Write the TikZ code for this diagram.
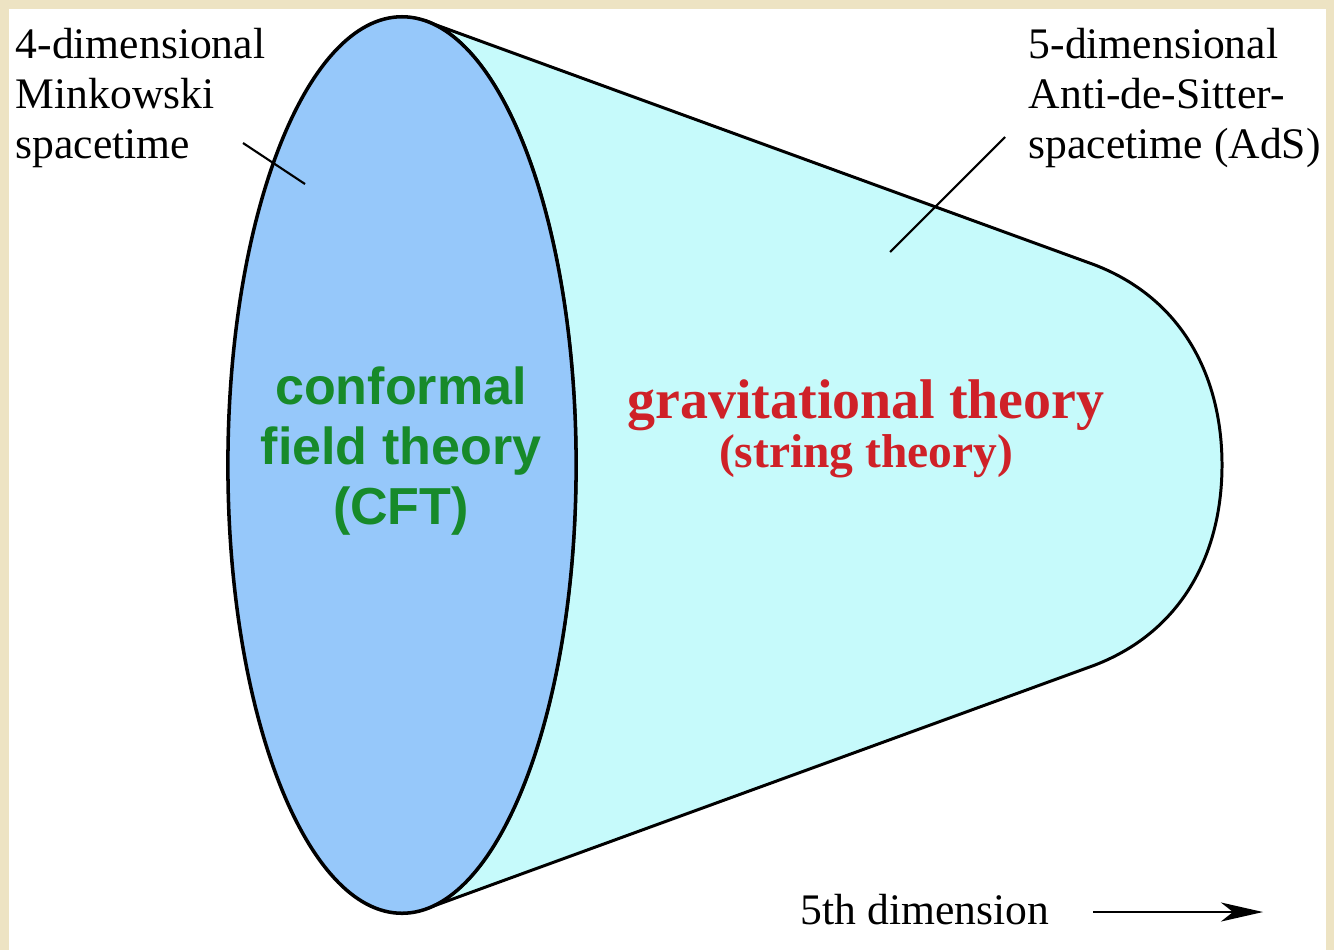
\documentclass[tikz,border=0pt]{standalone}
\usepackage{fontspec}
\setmainfont{Liberation Serif}
\newfontfamily\sansbold{Liberation Sans}
\usetikzlibrary{arrows.meta}
\definecolor{cream}{HTML}{EDE3C3}
\definecolor{conecol}{HTML}{C6FAFB}
\definecolor{disccol}{HTML}{96C8FA}
\definecolor{cftgreen}{HTML}{178A2A}
\definecolor{gravred}{HTML}{CF2128}
\tikzset{
  outline/.style={draw=black, line width=0.85pt},
  leader/.style={draw=black, line width=0.6pt},
  label/.style={inner sep=0pt, align=left, font=\fontsize{12.4}{14.2}\selectfont},
  cfttext/.style={inner sep=0pt, align=center, text=cftgreen, font=\sansbold\bfseries\fontsize{14.8}{17.1}\selectfont},
  gravtext/.style={inner sep=0pt, text=gravred, font=\bfseries\fontsize{15.9}{18}\selectfont},
  stringtext/.style={inner sep=0pt, text=gravred, font=\bfseries\fontsize{13.5}{16}\selectfont},
}
\begin{document}
\begin{tikzpicture}[x=0.01cm, y=0.01cm]
\useasboundingbox (0,0) rectangle (1334,950);
\fill[cream] (0,0) rectangle (1334,950);
\fill[white] (9,0) rectangle (1326,941);
% key points
\coordinate (E) at (402,485);
\coordinate (T1) at (426.4,928.6);
\coordinate (T2) at (426.4,41.4);
\coordinate (R1) at (1095,685);
\coordinate (R2) at (1222,485);
\coordinate (R3) at (1095,285);
% cone (AdS)
\path[fill=conecol, outline] (T1) -- (R1) .. controls (1185,650) and (1222,570) .. (R2)
  .. controls (1222,400) and (1185,320) .. (R3) -- (T2)
  arc[start angle=-81.94, end angle=81.94, x radius=1.74cm, y radius=4.48cm] -- cycle;
% boundary disc
\path[fill=disccol, outline, line width=1pt] (E) ellipse [x radius=1.74cm, y radius=4.48cm];
% labels
\node[label, anchor=north west] (mink) at (15,922) {4-dimensional\\Minkowski\\spacetime};
\node[label, anchor=north west] (ads) at (1028,922) {5-dimensional\\Anti-de-Sitter-\\spacetime (AdS)};
\coordinate (l1a) at (243,807);
\coordinate (l1b) at (305,766);
\coordinate (l2a) at (1005,813);
\coordinate (l2b) at (890,698);
\draw[leader] (l1a) -- (l1b);
\draw[leader] (l2a) -- (l2b);
% inner texts
\node[cfttext] (cft) at (401,499) {conformal\\field theory\\(CFT)};
\node[gravtext, anchor=base] (grav) at (866,532) {gravitational theory};
\node[stringtext, anchor=base] (string) at (866,483) {(string theory)};
% 5th dimension
\node[label, anchor=base west] (fifth) at (800,26) {5th dimension};
\coordinate (arrA) at (1093,38);
\coordinate (arrB) at (1263,38);
\draw[line width=0.7pt, -{Stealth[length=4.2mm, width=1.9mm, inset=1.2mm]}] (arrA) -- (arrB);
\end{tikzpicture}
\end{document}
